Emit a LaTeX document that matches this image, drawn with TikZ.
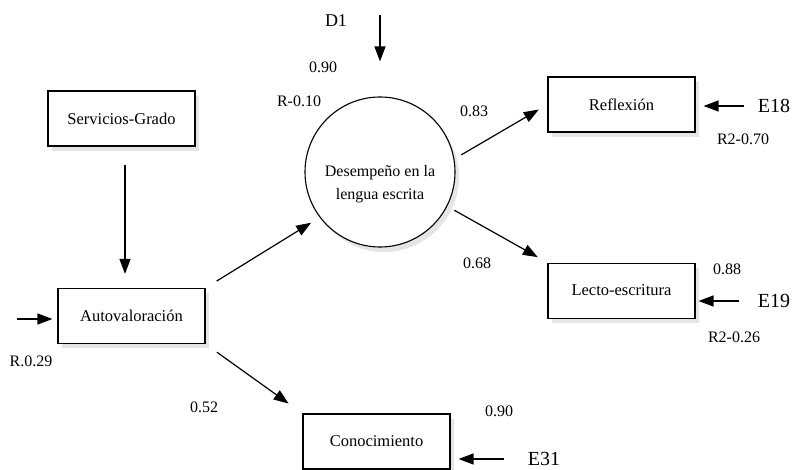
\documentclass[tikz,border=0pt]{standalone}
\usepackage{fontspec}
\setmainfont{Liberation Serif}
\usetikzlibrary{arrows.meta,positioning,shadows}

\begin{document}
\begin{tikzpicture}[
    x=1pt, y=-1pt,
    node distance=130pt and 2cm,
    box/.style={rectangle, draw=black, line width=1.1pt, fill=white,
                minimum width=147pt, minimum height=55pt, align=center,
                font=\fontsize{16.5}{19}\selectfont,
                drop shadow={shadow xshift=4pt, shadow yshift=-5pt, fill=black!20}},
    latent/.style={circle, draw=black, line width=1.1pt, fill=white,
                minimum size=150pt,
                drop shadow={shadow xshift=4pt, shadow yshift=-5pt, fill=black!20}},
    num/.style={font=\fontsize{16}{19}\selectfont},
    err/.style={font=\fontsize{20}{24}\selectfont},
    arrow/.style={-{Triangle[length=15pt, width=11pt]}, line width=1.2pt}
]
\useasboundingbox (0,0) rectangle (793,470);

% Observed variables on the left
\node[box] (serv) at (121.5,118.5) {Servicios-Grado};
\node[box] (auto) at (131.5,316) {Autovaloración};

% Latent variable
\node[latent] (circ) at (380,172) {};
\node[align=center, font=\fontsize{16}{23}\selectfont] (desc) at ([yshift=-12pt]circ.center) {Desempeño en la\\lengua escrita};

% Indicators on the right
\node[box] (refl) at (621.5,104.5) {Reflexión};
\node[box, below=130pt of refl] (lecto) {Lecto-escritura};

% Bottom box
\node[box] (con) at (376.5,441.5) {Conocimiento};

% Error terms
\node[font=\fontsize{18}{22}\selectfont] (d1) at (336,21) {D1};
\coordinate (d1in) at (380,15);
\node[err] (e18) at (774,106) {E18};
\node[err] (e19) at (774,301) {E19};
\node[err, inner sep=1pt] (e31) at (544,459) {E31};
\coordinate (eauto) at (17,319);

% Coefficients
\node[num] (c090) at (323,67) {0.90};
\node[num] (r010) at (299,101) {R-0.10};
\node[num] (c083) at (474,111) {0.83};
\node[num] (r070) at (743,139) {R2-0.70};
\node[num] (c068) at (477,263) {0.68};
\node[num] (c088) at (727,269) {0.88};
\node[num] (r026) at (734,337) {R2-0.26};
\node[num] (c090b) at (499,411) {0.90};
\node[num] (r029) at (31,361) {R.0.29};
\node[num] (c052) at (204,407) {0.52};

% Paths
\draw[arrow, shorten <=18pt, shorten >=14pt] ([xshift=3.5pt]serv.south) -- ([xshift=-6.5pt]auto.north);
\draw[arrow, shorten <=13pt, shorten >=10pt] (auto.north east) -- (circ.217);
\draw[arrow, shorten <=8pt, shorten >=10pt] (circ.10) -- (refl.west);
\draw[arrow, shorten <=8pt, shorten >=11pt] (circ.-27) -- (lecto.north west);
\draw[arrow, shorten <=14pt, shorten >=17pt] (auto.south east) -- (con.north west);

% Disturbance and error arrows
\draw[arrow, shorten >=35pt] (d1in) -- (d1in |- circ.north);
\draw[arrow, shorten >=5pt] (eauto) -- (eauto -| auto.west);
\draw[arrow, shorten <=10pt, shorten >=8pt] (e18.west) -- (e18.west -| refl.east);
\draw[arrow, shorten <=15pt, shorten >=3pt] (e19.west) -- (e19.west -| lecto.east);
\draw[arrow, shorten <=23pt, shorten >=8pt] (e31.west) -- (e31.west -| con.east);

\end{tikzpicture}
\end{document}
